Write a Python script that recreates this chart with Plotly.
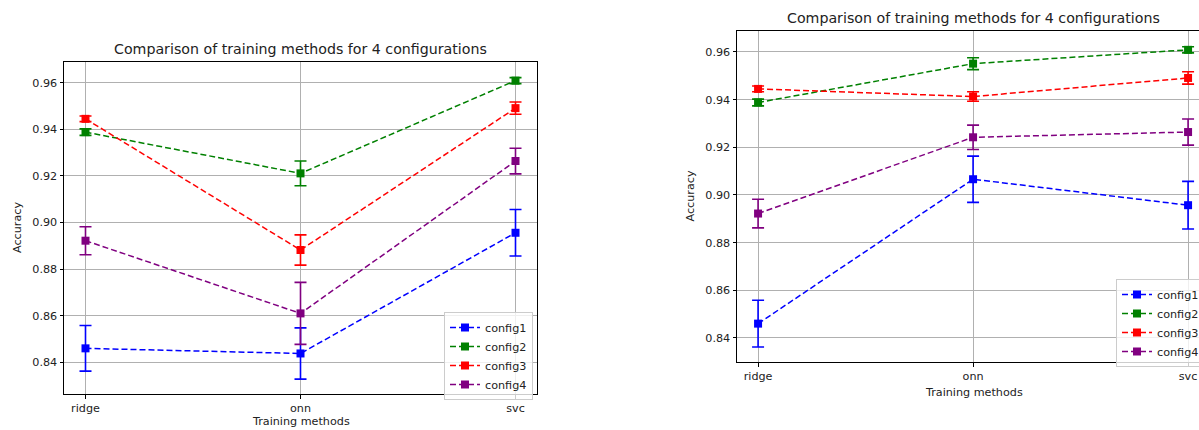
import plotly.graph_objects as go

methods = ["ridge", "onn", "svc"]
configs = ["config1", "config2", "config3", "config4"]
colors = ["blue", "green", "red", "purple"]

# Left chart values (mean accuracy and error)
left_c1 = [0.8460, 0.8438, 0.8956]
left_c2 = [0.9388, 0.9211, 0.9609]
left_c3 = [0.9445, 0.8882, 0.9491]
left_c4 = [0.8922, 0.8610, 0.9264]
left_e1 = [0.0098, 0.0110, 0.0100]
left_e2 = [0.0014, 0.0053, 0.0013]
left_e3 = [0.0012, 0.0065, 0.0026]
left_e4 = [0.0060, 0.0133, 0.0055]

# Right chart values
right_c1 = [0.8460, 0.9066, 0.8957]
right_c2 = [0.9388, 0.9551, 0.9609]
right_c3 = [0.9445, 0.9413, 0.9491]
right_c4 = [0.8922, 0.9242, 0.9264]
right_e1 = [0.0098, 0.0097, 0.0100]
right_e2 = [0.0014, 0.0025, 0.0013]
right_e3 = [0.0012, 0.0020, 0.0026]
right_e4 = [0.0060, 0.0051, 0.0055]

y_ticks = [0.84, 0.86, 0.88, 0.90, 0.92, 0.94, 0.96]
title_text = "Comparison of training methods for 4 configurations"

W, H = 1199, 430
FONT = "DejaVu Sans"
SMALL = 11.2
BIG = 14.2

left_vals = [left_c1, left_c2, left_c3, left_c4]
left_errs = [left_e1, left_e2, left_e3, left_e4]
right_vals = [right_c1, right_c2, right_c3, right_c4]
right_errs = [right_e1, right_e2, right_e3, right_e4]

fig = go.Figure()

for vals, errs, xa, ya, lg in [
    (left_vals, left_errs, "x", "y", "legend"),
    (right_vals, right_errs, "x2", "y2", "legend2"),
]:
    for name, col, v, e in zip(configs, colors, vals, errs):
        fig.add_trace(go.Scatter(
            x=methods, y=v, name=name, mode="lines+markers",
            line=dict(color=col, width=1.5, dash="6px,3px"),
            marker=dict(symbol="square", size=8, color=col),
            error_y=dict(type="data", array=e, visible=True, color=col,
                         thickness=1.6, width=6),
            xaxis=xa, yaxis=ya, legend=lg,
        ))

def px_x(p):
    return p / W

def px_y(p):
    return 1 - p / H

axis_common = dict(
    showgrid=True, gridcolor="#b0b0b0", gridwidth=0.8,
    showline=True, linecolor="black", linewidth=1,
    ticks="outside", ticklen=3.5, tickwidth=0.8, tickcolor="black",
    tickfont=dict(family=FONT, size=SMALL, color="#222222"),
    zeroline=False,
)

fig.update_layout(
    width=W, height=H,
    margin=dict(l=0, r=0, t=0, b=0, pad=0, autoexpand=False),
    paper_bgcolor="white", plot_bgcolor="white",
    font=dict(family=FONT, size=SMALL, color="#222222"),
    xaxis=dict(domain=[px_x(64), px_x(537)], type="category",
               range=[-0.1, 2.1], mirror=True, anchor="y", **axis_common),
    yaxis=dict(domain=[px_y(394), px_y(62)], range=[0.8264, 0.9689],
               tickvals=y_ticks, tickformat=".2f", mirror=True, anchor="x",
               **axis_common),
    xaxis2=dict(domain=[px_x(737), 1.0], type="category",
                range=[-0.098, -0.098 + (W - 737) / 215.0], mirror=True,
                anchor="y2", **axis_common),
    yaxis2=dict(domain=[px_y(362), px_y(31)], range=[0.8299, 0.9688],
                tickvals=y_ticks, tickformat=".2f", mirror=False, anchor="x2",
                **axis_common),
    legend=dict(x=px_x(444), y=px_y(312), xanchor="left", yanchor="top",
                bgcolor="rgba(255,255,255,0.8)", bordercolor="#cccccc",
                borderwidth=1, font=dict(family=FONT, size=SMALL),
                tracegroupgap=0, itemwidth=30),
    legend2=dict(x=px_x(1116), y=px_y(279), xanchor="left", yanchor="top",
                 bgcolor="rgba(255,255,255,0.8)", bordercolor="#cccccc",
                 borderwidth=1, font=dict(family=FONT, size=SMALL),
                 tracegroupgap=0, itemwidth=30),
    showlegend=True,
)

annotations = [
    dict(text=title_text, x=px_x(300.5), y=px_y(49), font=dict(size=BIG)),
    dict(text=title_text, x=px_x(973.5), y=px_y(18), font=dict(size=BIG)),
    dict(text="Accuracy", x=px_x(18), y=px_y(228), textangle=-90),
    dict(text="Accuracy", x=px_x(690), y=px_y(196.5), textangle=-90),
    dict(text="Training methods", x=px_x(300.5), y=px_y(421.5)),
    dict(text="Training methods", x=px_x(973.5), y=px_y(392)),
]
for a in annotations:
    a.update(xref="paper", yref="paper", showarrow=False,
             xanchor="center", yanchor="middle")
    a.setdefault("font", {})
    a["font"].update(family=FONT, color="#222222")
    a["font"].setdefault("size", SMALL)
fig.update_layout(annotations=annotations)

fig.write_html(
    "out.html",
    config={"displayModeBar": False},
    post_script="document.body.style.margin='0';"
                "document.body.style.overflow='hidden';",
)
